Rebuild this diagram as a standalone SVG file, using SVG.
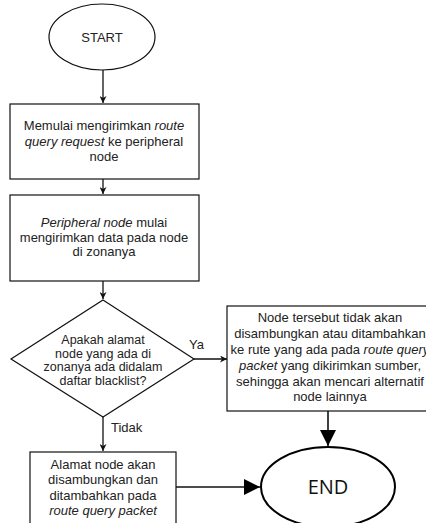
<svg xmlns="http://www.w3.org/2000/svg" width="426" height="523" viewBox="0 0 426 523">
  <style>
    .shape { fill: #ffffff; stroke: #111111; stroke-width: 1.2; }
    .bold { fill: #ffffff; stroke: #000000; stroke-width: 2; }
    .txt { font-family: "Liberation Sans", Arial, sans-serif; font-size: 13px; fill: #222222; text-anchor: middle; }
    .dtxt { font-family: "Liberation Sans", Arial, sans-serif; font-size: 12.5px; fill: #222222; text-anchor: middle; }
    .lbl { font-family: "Liberation Sans", Arial, sans-serif; font-size: 13px; fill: #222222; }
    .big { font-family: "Open Sans", "Liberation Sans", sans-serif; font-size: 20px; fill: #111111; text-anchor: middle; }
    .edge { fill: none; stroke: #111111; stroke-width: 1.3; }
    .edge2 { fill: none; stroke: #111111; stroke-width: 1.6; }
  </style>
  <defs>
    <marker id="arrow" viewBox="0 0 10 10" refX="10" refY="5" markerWidth="7" markerHeight="7" markerUnits="userSpaceOnUse" orient="auto">
      <path d="M0,0 L10,5 L0,10 L3,5 Z" fill="#111111"/>
    </marker>
    <marker id="arrowBig" viewBox="0 0 10 10" refX="10" refY="5" markerWidth="16" markerHeight="16" markerUnits="userSpaceOnUse" orient="auto">
      <path d="M0,0 L10,5 L0,10 Z" fill="#000000"/>
    </marker>
  </defs>
  <rect width="426" height="523" fill="#ffffff"/>

  <g id="connectors">
    <line class="edge" x1="103" y1="70" x2="103" y2="103" marker-end="url(#arrow)"/>
    <line class="edge" x1="103" y1="179" x2="103" y2="194" marker-end="url(#arrow)"/>
    <line class="edge" x1="103" y1="281" x2="103" y2="299" marker-end="url(#arrow)"/>
    <line class="edge" x1="194" y1="359" x2="227" y2="359" marker-end="url(#arrow)"/>
    <text class="lbl" x="189" y="349">Ya</text>
    <line class="edge" x1="103" y1="417" x2="103" y2="451" marker-end="url(#arrow)"/>
    <text class="lbl" x="111" y="432">Tidak</text>
    <line class="edge2" x1="328" y1="411" x2="328" y2="446" marker-end="url(#arrowBig)"/>
    <line class="edge2" x1="176" y1="487" x2="260" y2="487" marker-end="url(#arrowBig)"/>
  </g>

  <g id="start">
    <ellipse class="shape" cx="102" cy="37" rx="53" ry="33"/>
    <text class="txt" x="102" y="42">START</text>
  </g>

  <g id="send-request">
    <rect class="shape" x="10" y="104" width="189" height="75"/>
    <text class="txt" x="104" y="130">Memulai mengirimkan <tspan font-style="italic">route</tspan></text>
    <text class="txt" x="104" y="146"><tspan font-style="italic">query request</tspan> ke peripheral</text>
    <text class="txt" x="104" y="161">node</text>
  </g>

  <g id="send-data">
    <rect class="shape" x="10" y="195" width="189" height="86"/>
    <text class="txt" x="104" y="227"><tspan font-style="italic">Peripheral node</tspan> mulai</text>
    <text class="txt" x="104" y="242">mengirimkan data pada node</text>
    <text class="txt" x="104" y="256">di zonanya</text>
  </g>

  <g id="check-blacklist">
    <polygon class="shape" points="103,300 194,359 103,417 11,359"/>
    <text class="dtxt" x="103" y="344">Apakah alamat</text>
    <text class="dtxt" x="103" y="357.5">node yang ada di</text>
    <text class="dtxt" x="103" y="371">zonanya ada didalam</text>
    <text class="dtxt" x="103" y="384.5">daftar blacklist?</text>
  </g>

  <g id="reject-node">
    <rect class="shape" x="227" y="306" width="206" height="105"/>
    <text class="txt" x="330" y="322">Node tersebut tidak akan</text>
    <text class="txt" x="330" y="338">disambungkan atau ditambahkan</text>
    <text class="txt" x="330" y="354">ke rute yang ada pada <tspan font-style="italic">route query</tspan></text>
    <text class="txt" x="330" y="370"><tspan font-style="italic">packet</tspan> yang dikirimkan sumber,</text>
    <text class="txt" x="330" y="386">sehingga akan mencari alternatif</text>
    <text class="txt" x="330" y="401">node lainnya</text>
  </g>

  <g id="add-node">
    <rect class="shape" x="30" y="452" width="146" height="72"/>
    <text class="txt" x="103" y="469">Alamat node akan</text>
    <text class="txt" x="103" y="484">disambungkan dan</text>
    <text class="txt" x="103" y="500">ditambahkan pada</text>
    <text class="txt" x="103" y="515" font-style="italic">route query packet</text>
  </g>

  <g id="end">
    <ellipse class="bold" cx="328" cy="487" rx="67" ry="40"/>
    <text class="big" x="328" y="494">END</text>
  </g>
</svg>
